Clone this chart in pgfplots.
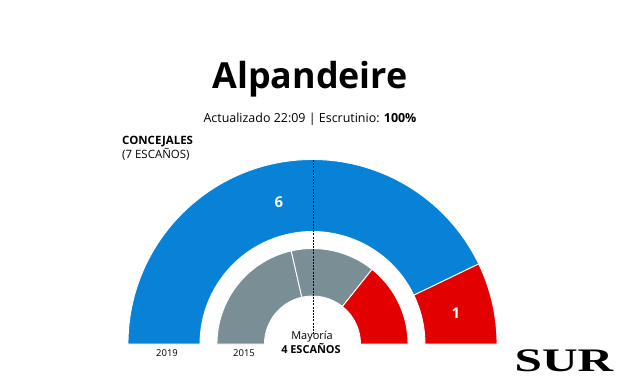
\documentclass[border=0pt]{standalone}
\usepackage{pgfplots}
\pgfplotsset{compat=1.18}
\usepackage{fontspec}
\setmainfont{Open Sans}
\newfontfamily\surfont{Liberation Serif}
\usetikzlibrary{calc}
\definecolor{ppblue}{RGB}{8,130,214}
\definecolor{psred}{RGB}{226,0,0}
\definecolor{ogray}{RGB}{122,142,150}
% seats: 2019 = 6 (blue), 1 (red); 2015 = 3 (gray), 2 (gray), 2 (red); total 7
\def\totalseats{7}
\def\cx{312.5}\def\cy{41}
\newcommand\ringsegs[3]{% #1 inner radius, #2 outer radius, #3 list seats/colour
  \gdef\cum{0}%
  \foreach \s/\c in {#3}{%
    \pgfmathsetmacro\aS{180-\cum*180/\totalseats}%
    \pgfmathsetmacro\newcum{\cum+\s}%
    \pgfmathsetmacro\aE{180-\newcum*180/\totalseats}%
    \edef\temp{\noexpand\fill[\c,draw=white,line width=0.9pt] (axis cs:\cx,\cy) ++(\aS:#2) arc[start angle=\aS,end angle=\aE,radius=#2] -- ($(axis cs:\cx,\cy)+(\aE:#1)$) arc[start angle=\aE,end angle=\aS,radius=#1] -- cycle;}%
    \temp
    \xdef\cum{\newcum}%
  }%
}
\begin{document}
\begin{tikzpicture}
\begin{axis}[x=1bp,y=1bp,xmin=0,xmax=624,ymin=0,ymax=385,axis lines=none,clip=false,anchor=origin,at={(0,0)}]
\path (axis cs:0,0) rectangle (axis cs:624,385);
\ringsegs{112.5bp}{184.5bp}{6/ppblue,1/psred}
\ringsegs{48bp}{95.5bp}{3/ogray,2/ogray,2/psred}
\draw[black,line width=0.6pt,dash pattern=on 2pt off 1.2pt] (axis cs:313,225) -- (axis cs:313,50);
\node[anchor=base,inner sep=0] at (axis cs:310,297) {\fontsize{36}{38}\selectfont\bfseries Alpandeire};
\node[anchor=base,inner sep=0] at (axis cs:310,262.5) {\fontsize{12.5}{14}\selectfont Actualizado 22:09 | Escrutinio: \textbf{100\%}};
\node[anchor=base west,inner sep=0] at (axis cs:122,240.5) {\fontsize{11.5}{13}\selectfont\bfseries CONCEJALES};
\node[anchor=base west,inner sep=0] at (axis cs:122,227) {\fontsize{11.5}{13}\selectfont (7 ESCAÑOS)};
\node[inner sep=0,text=white] at (axis cs:279,183) {\fontsize{15}{16}\selectfont\bfseries 6};
\node[inner sep=0,text=white] at (axis cs:456,72) {\fontsize{15}{16}\selectfont\bfseries 1};
\node[inner sep=0] at (axis cs:167,32) {\fontsize{9.5}{10}\selectfont 2019};
\node[inner sep=0] at (axis cs:244,32) {\fontsize{9.5}{10}\selectfont 2015};
\node[inner sep=0] at (axis cs:312,48) {\fontsize{11}{12}\selectfont Mayoría};
\node[inner sep=0] at (axis cs:311,36.5) {\fontsize{11}{12}\selectfont\bfseries 4 ESCAÑOS};
\node[inner sep=0,xscale=1.5] at (axis cs:564,24) {\fontsize{33}{34}\selectfont\surfont\bfseries SUR};
\end{axis}
\end{tikzpicture}
\end{document}
